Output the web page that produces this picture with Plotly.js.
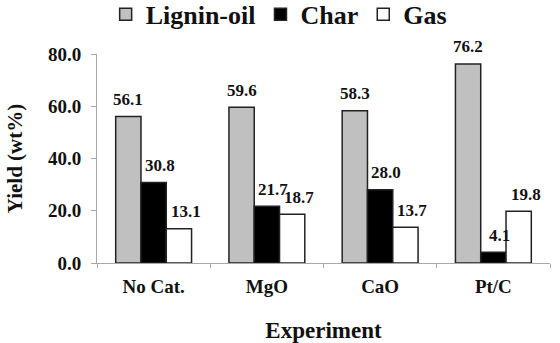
<!DOCTYPE html>
<html>
<head>
<meta charset="utf-8">
<script src="https://cdn.plot.ly/plotly-3.0.1.min.js"></script>
<style>
  html, body { margin: 0; padding: 0; background: #fff; }
  #chart { width: 560px; height: 343px; }
</style>
</head>
<body>
<div id="chart"></div>
<script>
// Product yields per catalyst experiment (wt%)
const experiments = ['No Cat.', 'MgO', 'CaO', 'Pt/C'];
const ligninOil = [56.1, 59.6, 58.3, 76.2];
const charYield = [30.8, 21.7, 28.0, 4.1];
const gasYield  = [13.1, 18.7, 13.7, 19.8];
const yTicks = [0, 20, 40, 60, 80];

const FONT = 'Liberation Serif';
const W = 700;

// Plot geometry (pixels) used to place value labels over each grouped bar
const WIDTH = 560, HEIGHT = 343;
const MARGIN = { l: 97, r: 10, t: 54, b: 80, autoexpand: false };
const BARGAP = 0.33;

const seriesList = [
  { name: 'Lignin-oil', values: ligninOil, fill: '#c0c0c0', labelNudge: 0 },
  { name: 'Char',       values: charYield, fill: '#000000', labelNudge: 6 },
  { name: 'Gas',        values: gasYield,  fill: '#ffffff', labelNudge: 7 }
];

const data = seriesList.map(s => ({
  type: 'bar',
  name: s.name,
  x: experiments,
  y: s.values,
  marker: { color: s.fill, line: { color: '#222', width: 1.5 } },
  hoverinfo: 'skip'
}));

// Value labels sit a fixed distance above each bar top
const plotW = WIDTH - MARGIN.l - MARGIN.r;
const barW = plotW / experiments.length * (1 - BARGAP) / seriesList.length;
const annotations = [];
seriesList.forEach((s, i) => {
  s.values.forEach((v, j) => {
    annotations.push({
      x: experiments[j], y: v, xref: 'x', yref: 'y',
      text: v.toFixed(1),
      showarrow: false,
      xanchor: 'center', yanchor: 'middle',
      xshift: (i - (seriesList.length - 1) / 2) * barW + s.labelNudge,
      yshift: 17,
      font: { family: FONT, size: 17, weight: W, color: '#111' }
    });
  });
});

const layout = {
  width: WIDTH,
  height: HEIGHT,
  margin: MARGIN,
  paper_bgcolor: '#fff',
  plot_bgcolor: '#fff',
  font: { family: FONT, color: '#111', weight: W },
  barmode: 'group',
  bargap: BARGAP,
  bargroupgap: 0,
  showlegend: true,
  legend: {
    orientation: 'h',
    x: 0.401, xanchor: 'center',
    y: 1.19, yanchor: 'middle',
    font: { family: FONT, size: 26, weight: W, color: '#111' },
    traceorder: 'normal'
  },
  annotations: annotations,
  xaxis: {
    type: 'category',
    showline: true,
    linecolor: '#a8a8a8',
    linewidth: 1,
    ticks: 'outside',
    tickson: 'boundaries',
    ticklen: 4,
    tickcolor: '#a8a8a8',
    ticklabelstandoff: 6,
    tickfont: { family: FONT, size: 19, weight: W, color: '#111' },
    showgrid: false,
    zeroline: false,
    title: {
      text: 'Experiment',
      font: { family: FONT, size: 23, weight: W, color: '#111' },
      standoff: 27
    }
  },
  yaxis: {
    range: [0, 80],
    tickvals: yTicks,
    ticktext: yTicks.map(v => v.toFixed(1)),
    showline: true,
    linecolor: '#a8a8a8',
    linewidth: 1,
    ticks: 'outside',
    ticklen: 5,
    tickcolor: '#a8a8a8',
    ticklabelstandoff: 6,
    tickfont: { family: FONT, size: 19, weight: W, color: '#111' },
    showgrid: false,
    zeroline: false,
    title: {
      text: 'Yield (wt%)',
      font: { family: FONT, size: 21, weight: W, color: '#111' },
      standoff: 19
    }
  }
};

Plotly.newPlot('chart', data, layout, { displayModeBar: false, staticPlot: true });
</script>
</body>
</html>
